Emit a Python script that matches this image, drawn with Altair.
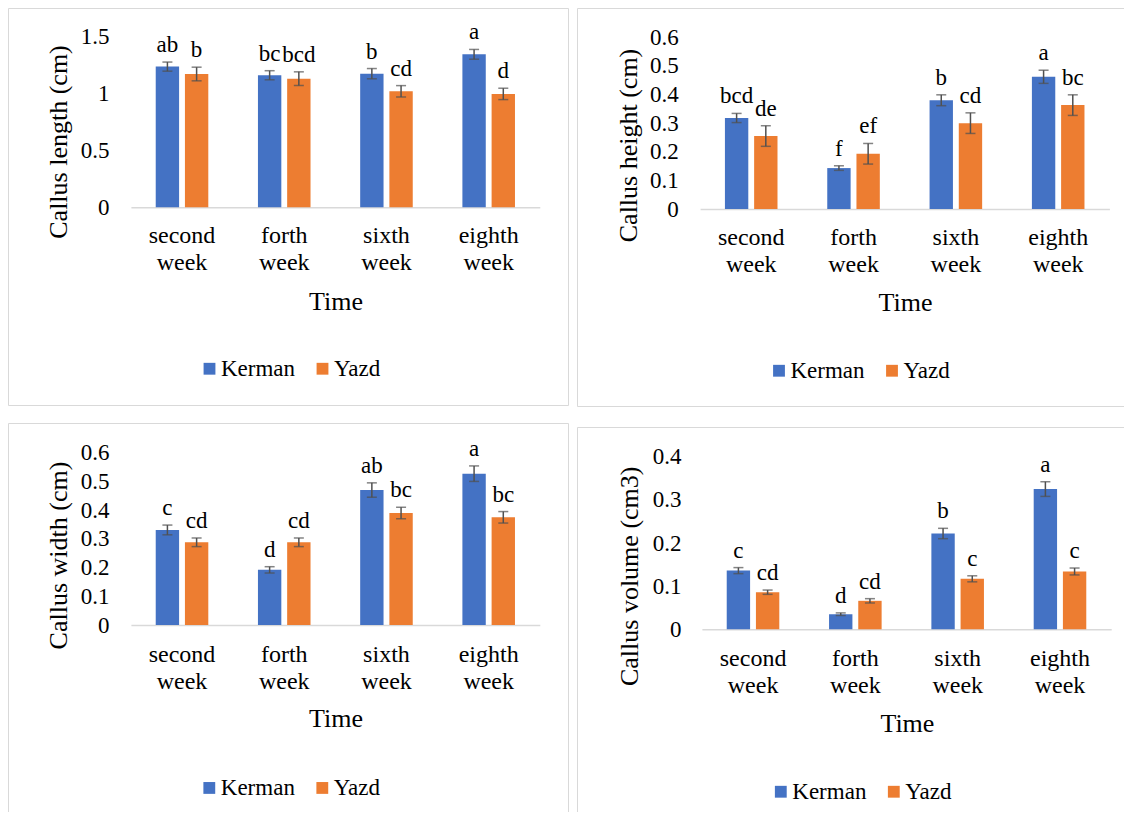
import altair as alt
import pandas as pd

weeks = ["second week", "forth week", "sixth week", "eighth week"]
sites = ["Kerman", "Yazd"]

# Callus length (cm)
length_kerman = [1.237, 1.161, 1.175, 1.345]
length_yazd = [1.172, 1.131, 1.020, 0.997]
length_kerman_err = [0.040, 0.040, 0.045, 0.043]
length_yazd_err = [0.060, 0.060, 0.050, 0.050]
length_kerman_letters = ["ab", "bc", "b", "a"]
length_yazd_letters = ["b", "bcd", "cd", "d"]

# Callus height (cm)
height_kerman = [0.318, 0.143, 0.380, 0.462]
height_yazd = [0.255, 0.193, 0.300, 0.363]
height_kerman_err = [0.016, 0.008, 0.019, 0.023]
height_yazd_err = [0.036, 0.036, 0.036, 0.036]
height_kerman_letters = ["bcd", "f", "b", "a"]
height_yazd_letters = ["de", "ef", "cd", "bc"]

# Callus width (cm)
width_kerman = [0.331, 0.192, 0.470, 0.527]
width_yazd = [0.288, 0.288, 0.390, 0.375]
width_kerman_err = [0.017, 0.011, 0.025, 0.027]
width_yazd_err = [0.015, 0.015, 0.020, 0.020]
width_kerman_letters = ["c", "d", "ab", "a"]
width_yazd_letters = ["cd", "cd", "bc", "bc"]

# Callus volume (cm3)
volume_kerman = [0.136, 0.035, 0.222, 0.325]
volume_yazd = [0.086, 0.066, 0.117, 0.134]
volume_kerman_err = [0.007, 0.003, 0.012, 0.017]
volume_yazd_err = [0.005, 0.005, 0.007, 0.008]
volume_kerman_letters = ["c", "d", "b", "a"]
volume_yazd_letters = ["cd", "cd", "c", "c"]

BLUE = "#4472C4"
ORANGE = "#ED7D31"
ERR = "#505050"
BORDER = "#d9d9d9"
FONT = "Liberation Serif"


def make_df(kv, yv, ke, ye, kl, yl):
    rows = []
    for i, w in enumerate(weeks):
        for site, v, e, l in (("Kerman", kv[i], ke[i], kl[i]), ("Yazd", yv[i], ye[i], yl[i])):
            rows.append({"week": w, "site": site, "value": v,
                         "lo": v - e, "hi": v + e, "letter": l})
    return pd.DataFrame(rows)


def panel(df, ytitle, ymax, g):
    W, H = g["W"], g["H"]
    x0, x1 = g["xr"]
    y0, y1 = g["yr"]
    yscale = alt.Scale(domain=[0, ymax], range=[y0, y1], nice=False, zero=True)
    xscale = alt.Scale(domain=weeks, range=[x0, x1], paddingInner=0, paddingOuter=0)
    nt = int(round(ymax / g["ystep"]))
    yvals = [round(i * g["ystep"], 3) for i in range(nt + 1)]
    xaxis = alt.Axis(
        title="Time", labelExpr="split(datum.label, ' ')", labelAngle=0,
        ticks=False, grid=False, domainColor=BORDER, domainWidth=1.5,
        labelFont=FONT, labelFontSize=24, labelLineHeight=27, labelColor="black",
        labelPadding=g["xlp"], offset=y0 - H,
        titleFont=FONT, titleFontSize=26, titleFontWeight="normal", titleColor="black",
        titleX=g["xt"][0], titleY=g["xt"][1], titleAlign="center", titleBaseline="middle",
    )
    yaxis = alt.Axis(
        title=ytitle, values=yvals, format="~g", ticks=False, domain=False, grid=False,
        labelFont=FONT, labelFontSize=23, labelColor="black", labelPadding=g["ylp"],
        offset=-x0,
        titleFont=FONT, titleFontSize=26, titleFontWeight="normal", titleColor="black",
        titleX=g["yt"][0] - x0, titleY=g["yt"][1], titleAngle=-90,
        titleAlign="center", titleBaseline="middle",
    )
    base = alt.Chart(df).encode(
        x=alt.X("week:N", sort=weeks, scale=xscale, axis=xaxis),
        xOffset=alt.XOffset("site:N", sort=sites,
                            scale=alt.Scale(domain=sites, paddingInner=0.2, paddingOuter=0.85)),
    )
    bars = base.mark_bar().encode(
        y=alt.Y("value:Q", scale=yscale, axis=yaxis),
        color=alt.Color("site:N", sort=sites,
                        scale=alt.Scale(domain=sites, range=[BLUE, ORANGE]),
                        legend=alt.Legend(
                            title=None, orient="none", direction="horizontal",
                            legendX=g["lg"][0], legendY=g["lg"][1],
                            symbolType="square", symbolSize=140, symbolStrokeWidth=0,
                            labelFont=FONT, labelFontSize=23, labelColor="black",
                            labelOffset=0, columnPadding=15, padding=0)),
    )
    rules = base.mark_rule(color=ERR, strokeWidth=1.5).encode(
        y=alt.Y("lo:Q", scale=yscale, axis=yaxis), y2="hi:Q")
    cap_hi = base.mark_tick(color=ERR, thickness=1.5, size=10).encode(
        y=alt.Y("hi:Q", scale=yscale, axis=yaxis))
    cap_lo = base.mark_tick(color=ERR, thickness=1.5, size=10).encode(
        y=alt.Y("lo:Q", scale=yscale, axis=yaxis))
    text = base.mark_text(baseline="alphabetic", dy=-10, font=FONT, fontSize=23,
                          color="black").encode(
        y=alt.Y("hi:Q", scale=yscale, axis=yaxis), text="letter:N")
    # panel frame (edges that run off the page in the original are clipped away)
    frame = alt.Chart(pd.DataFrame({"f": [0]})).mark_rect(
        fill="transparent", stroke=BORDER, strokeWidth=1, clip=True
    ).encode(
        x=alt.value(0.5),
        x2=alt.value(W - 0.5 if g["right"] else W + 10),
        y=alt.value(0.5),
        y2=alt.value(H - 0.5 if g["bottom"] else H + 10),
    )
    return alt.layer(frame, bars, rules, cap_hi, cap_lo, text).properties(width=W, height=H)


gA = dict(W=561, H=398, xr=[122.9, 531.8], yr=[199.3, 28.7], ystep=0.5, ylp=21.9,
          yt=(50.2, 133.5), xlp=16, xt=(327.5, 93.7), lg=(190, 349), right=True, bottom=True)
gB = dict(W=547, H=399, xr=[123.1, 532.4], yr=[201, 29.3], ystep=0.1, ylp=21.9,
          yt=(51.1, 137), xlp=16.5, xt=(328, 93.7), lg=(190.5, 351), right=False, bottom=True)
gC = dict(W=561, H=389, xr=[122.9, 531.8], yr=[202, 29.7], ystep=0.1, ylp=21.9,
          yt=(50.2, 132), xlp=17, xt=(327.5, 93.3), lg=(189.8, 353.2), right=True, bottom=False)
gD = dict(W=547, H=385, xr=[124.9, 534.2], yr=[202.3, 29.7], ystep=0.1, ylp=20.8,
          yt=(52.1, 148.8), xlp=17, xt=(329.9, 94), lg=(192.3, 353), right=False, bottom=False)

pA = panel(make_df(length_kerman, length_yazd, length_kerman_err, length_yazd_err,
                   length_kerman_letters, length_yazd_letters), "Callus length (cm)", 1.5, gA)
pB = panel(make_df(height_kerman, height_yazd, height_kerman_err, height_yazd_err,
                   height_kerman_letters, height_yazd_letters), "Callus height (cm)", 0.6, gB)
pC = panel(make_df(width_kerman, width_yazd, width_kerman_err, width_yazd_err,
                   width_kerman_letters, width_yazd_letters), "Callus width (cm)", 0.6, gC)
pD = panel(make_df(volume_kerman, volume_yazd, volume_kerman_err, volume_yazd_err,
                   volume_kerman_letters, volume_yazd_letters), "Callus volume (cm3)", 0.4, gD)

indep = dict(x="independent", y="independent", color="independent")
col1 = alt.vconcat(pA, pC, spacing=17).resolve_scale(**indep).resolve_legend(color="independent")
col2 = alt.vconcat(pB, pD, spacing=20).resolve_scale(**indep).resolve_legend(color="independent")

chart = (
    alt.hconcat(col1, col2, spacing=8)
    .resolve_scale(**indep)
    .resolve_legend(color="independent")
    .properties(padding=0, background="white")
    .configure_view(stroke="transparent", strokeWidth=0)
    .configure_legend(labelFont=FONT, labelFontSize=23, labelColor="black",
                      symbolType="square", symbolSize=140, symbolStrokeWidth=0)
    .configure_axis(labelFont=FONT, titleFont=FONT)
    .configure_text(font=FONT)
)

chart.save("out.html", embed_options={"renderer": "svg", "actions": False})
